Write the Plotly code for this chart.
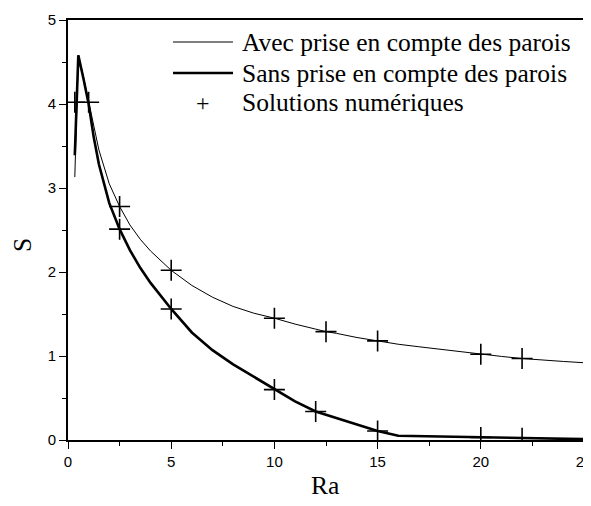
import plotly.graph_objects as go

# ---- data ----
ra_avec = [0.33, 0.5, 0.75, 1.0, 1.25, 1.5, 2.0, 2.5, 3.0, 3.5, 4.0, 4.5, 5.0,
           6.0, 7.0, 8.0, 9.0, 10.0, 11.0, 12.0, 12.5, 13.0, 14.0, 15.0, 16.0,
           17.0, 18.0, 19.0, 20.0, 21.0, 22.0, 23.0, 24.0, 25.0]
s_avec = [3.13, 4.58, 4.32, 4.03, 3.70, 3.45, 3.05, 2.78, 2.56, 2.39, 2.25, 2.13, 2.02,
          1.84, 1.70, 1.59, 1.51, 1.45, 1.38, 1.32, 1.29, 1.27, 1.22, 1.18, 1.14,
          1.11, 1.08, 1.05, 1.02, 0.995, 0.97, 0.95, 0.935, 0.92]

ra_sans = [0.33, 0.5, 0.75, 1.0, 1.25, 1.5, 2.0, 2.5, 3.0, 3.5, 4.0, 4.5, 5.0,
           6.0, 7.0, 8.0, 9.0, 10.0, 11.0, 12.0, 13.0, 14.0, 15.0, 16.0, 18.0,
           20.0, 22.0, 25.0]
s_sans = [3.39, 4.58, 4.30, 4.00, 3.60, 3.28, 2.82, 2.51, 2.26, 2.05, 1.87, 1.71, 1.56,
          1.28, 1.07, 0.90, 0.75, 0.60, 0.46, 0.34, 0.26, 0.18, 0.107, 0.05, 0.04,
          0.03, 0.02, 0.01]

ra_num = [0.33, 1.0, 2.5, 2.5, 5.0, 5.0, 10.0, 10.0, 12.0, 12.5, 15.0, 15.0,
          20.0, 20.0, 22.0, 22.0]
s_num = [4.02, 4.02, 2.78, 2.51, 2.02, 1.56, 1.45, 0.60, 0.34, 1.29, 1.18, 0.107,
         1.02, 0.03, 0.97, 0.02]

legend_labels = ["Avec prise en compte des parois",
                 "Sans prise en compte des parois",
                 "Solutions numériques"]
x_ticks = [0, 5, 10, 15, 20, 25]
y_ticks = [0, 1, 2, 3, 4, 5]

# page body has an 8px margin: shift everything by 8px
OFF = 8
W, H = 591 - OFF, 506 - OFF
ML, MR, MT, MB = 68 - OFF, 7, 20 - OFF, 66
PW, PH = W - ML - MR, H - MT - MB


def px(x):
    return (x - OFF - ML) / PW


def py(y):
    return (H - MB - (y - OFF)) / PH


serif = "Liberation Serif"
sans = "Liberation Sans"

fig = go.Figure()
fig.add_trace(go.Scatter(x=ra_avec, y=s_avec, mode="lines", name=legend_labels[0],
                         line=dict(color="black", width=1), showlegend=False))
fig.add_trace(go.Scatter(x=ra_sans, y=s_sans, mode="lines", name=legend_labels[1],
                         line=dict(color="black", width=2.6), showlegend=False))
fig.add_trace(go.Scatter(x=ra_num, y=s_num, mode="markers", name=legend_labels[2],
                         marker=dict(symbol="cross-thin", size=15,
                                     line=dict(color="black", width=1.6)),
                         showlegend=False))

# manual legend (to match the reference's long line samples)
rows_y = [42, 73, 103]
shapes = [
    dict(type="line", xref="paper", yref="paper", x0=px(173), x1=px(233),
         y0=py(rows_y[0]), y1=py(rows_y[0]), line=dict(color="black", width=1)),
    dict(type="line", xref="paper", yref="paper", x0=px(173), x1=px(233),
         y0=py(rows_y[1]), y1=py(rows_y[1]), line=dict(color="black", width=2.6)),
]
annotations = []
for lbl, ry in zip(legend_labels, rows_y):
    annotations.append(dict(text=lbl, xref="paper", yref="paper", x=px(240), y=py(ry),
                            xanchor="left", yanchor="middle", showarrow=False,
                            font=dict(family=serif, size=25.5, color="black")))
annotations.append(dict(text="+", xref="paper", yref="paper", x=px(203), y=py(rows_y[2]),
                        xanchor="center", yanchor="middle", showarrow=False,
                        font=dict(family=serif, size=24, color="black")))
# axis titles
annotations.append(dict(text="Ra", xref="paper", yref="paper", x=px(325), y=py(485),
                        xanchor="center", yanchor="middle", showarrow=False,
                        font=dict(family=serif, size=25.5, color="black")))
annotations.append(dict(text="S", xref="paper", yref="paper", x=px(22), y=py(245),
                        xanchor="center", yanchor="middle", showarrow=False, textangle=-90,
                        font=dict(family=serif, size=25.5, color="black")))

axis_common = dict(showline=True, linecolor="black", linewidth=1.6, mirror=True,
                   ticks="outside", ticklen=7, tickwidth=1.3, tickcolor="black",
                   showgrid=False, zeroline=False, automargin=False,
                   ticklabeloverflow="allow",
                   tickfont=dict(family=sans, size=15, color="black"))

fig.update_layout(
    width=W, height=H,
    margin=dict(l=ML, r=MR, t=MT, b=MB, pad=0),
    paper_bgcolor="white", plot_bgcolor="white",
    shapes=shapes, annotations=annotations,
    xaxis=dict(range=[0, 25], tickvals=x_ticks, ticktext=[str(v) for v in x_ticks],
               minor=dict(ticks="outside", ticklen=4, dtick=2.5, tickcolor="black", tickwidth=1.2),
               **axis_common),
    yaxis=dict(range=[0, 5], tickvals=y_ticks, ticktext=[str(v) for v in y_ticks],
               minor=dict(ticks="outside", ticklen=4, dtick=0.5, tickcolor="black", tickwidth=1.2),
               **axis_common),
)

fig.write_html("out.html")
